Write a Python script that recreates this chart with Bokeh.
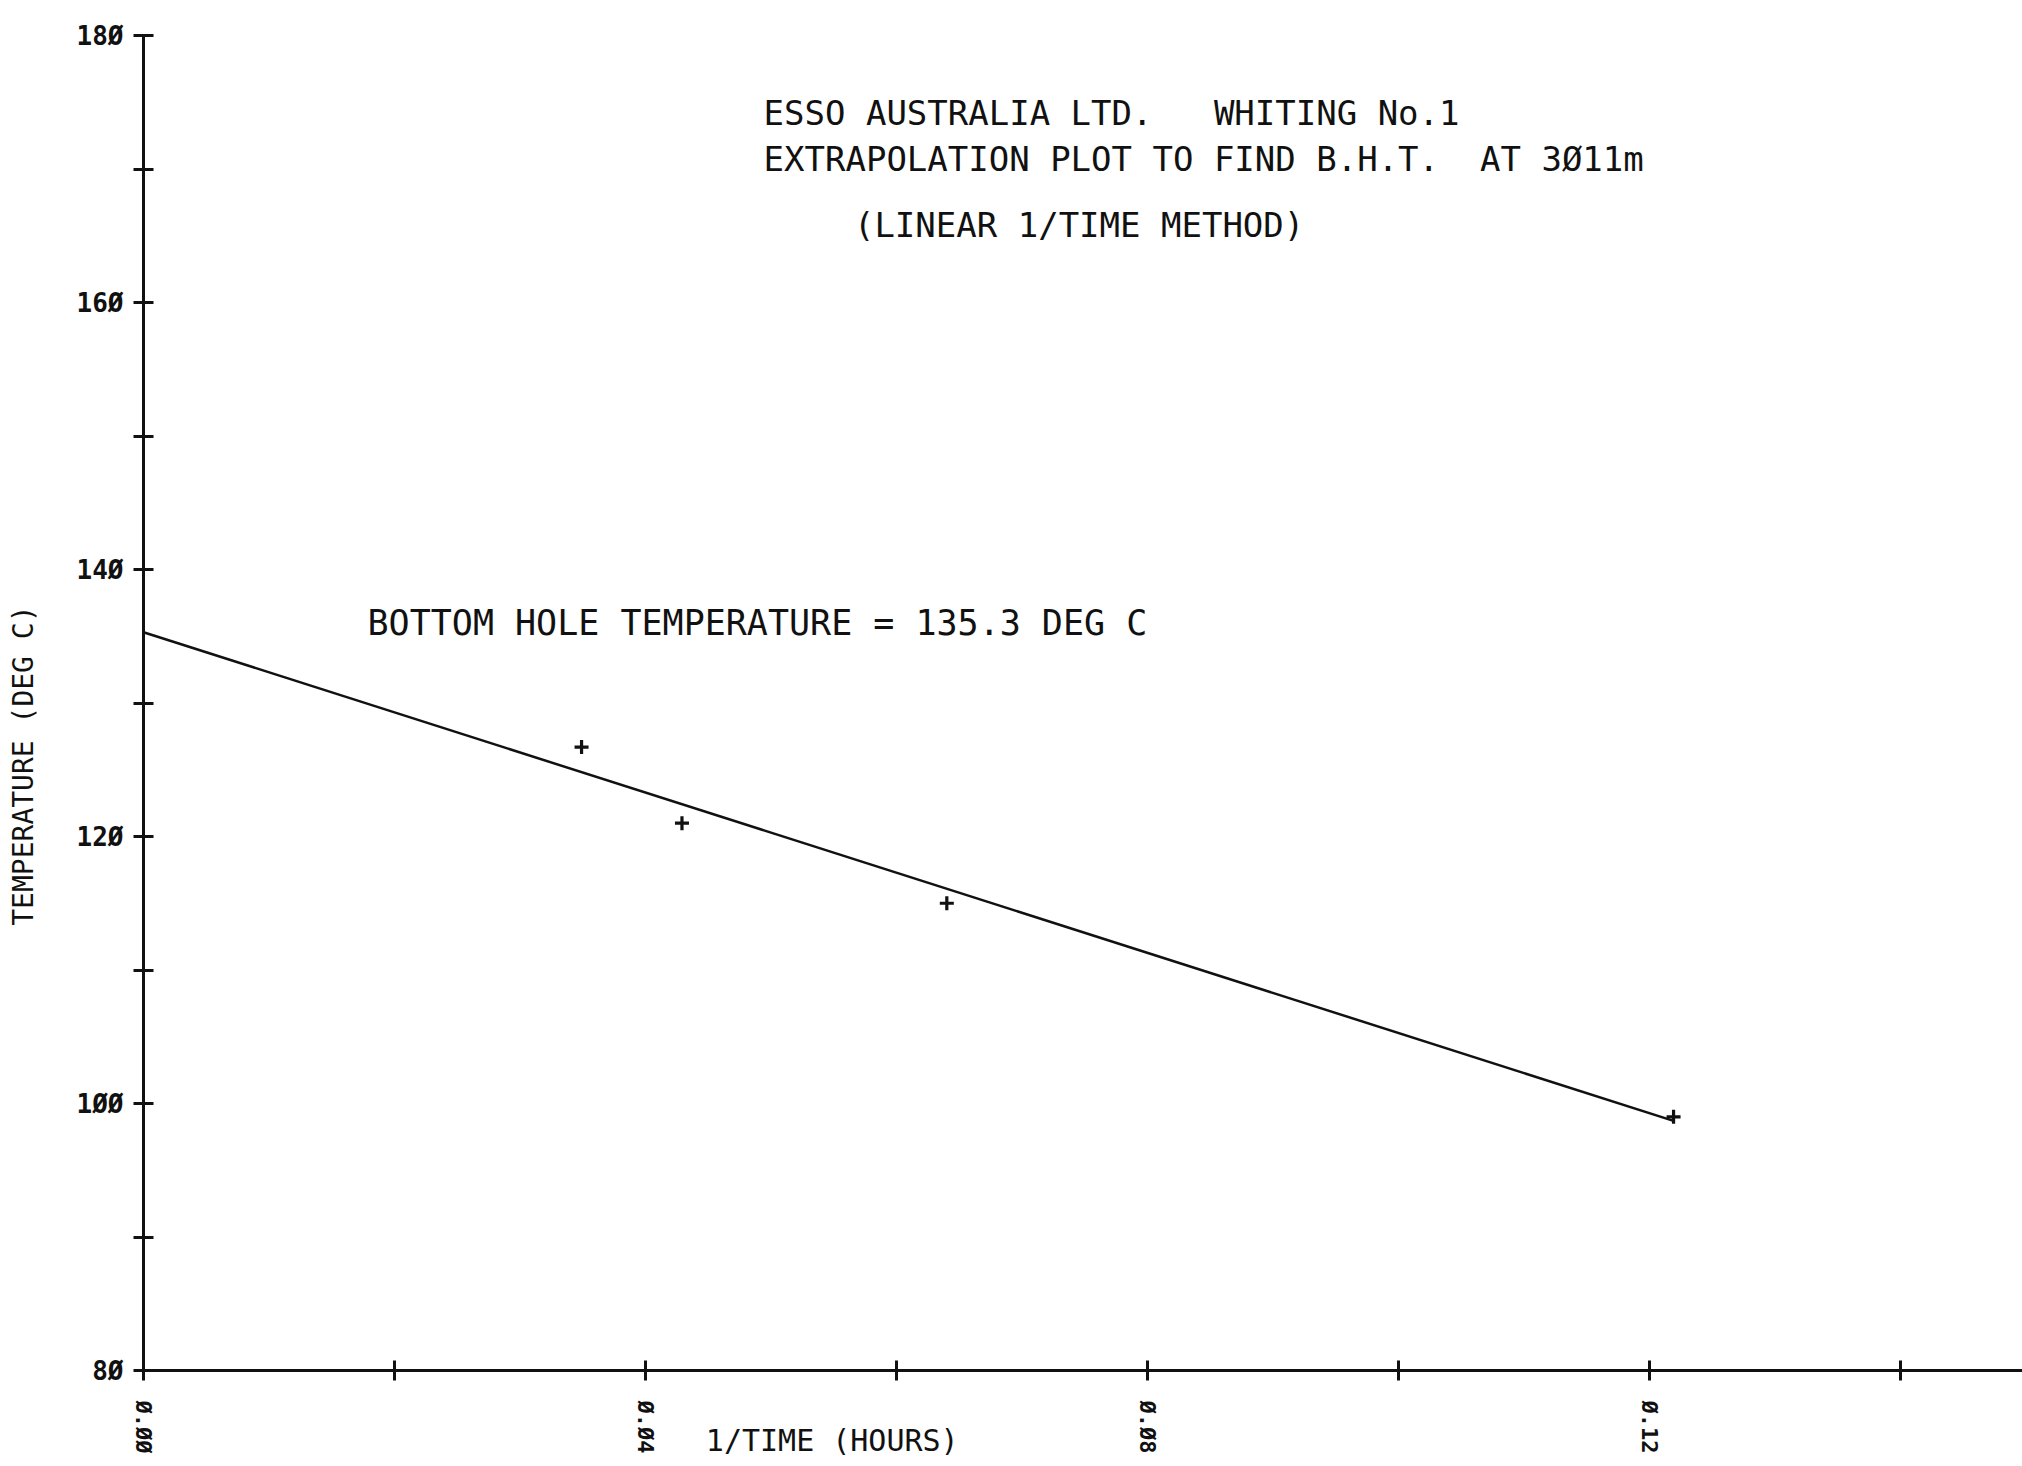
import math
from bokeh.plotting import figure
from bokeh.models import Range1d, FixedTicker, Label
from bokeh.embed import file_html
from bokeh.resources import INLINE

# ---- data ----
inv_time = [0.0349, 0.0429, 0.0640, 0.1219]          # 1/TIME (HOURS)
temperature = [126.7, 121.0, 115.0, 99.0]            # DEG C
fit_x = [0.0, 0.1219]
fit_y = [135.3, 98.7]

x_major_ticks = [0.0, 0.04, 0.08, 0.12]
x_major_labels = ["Ø.ØØ", "Ø.Ø4", "Ø.Ø8", "Ø.12"]
x_minor_ticks = [0.02, 0.06, 0.10, 0.14]
y_major_ticks = [80, 100, 120, 140, 160, 180]
y_major_labels = ["8Ø", "1ØØ", "12Ø", "14Ø", "16Ø", "18Ø"]
y_minor_ticks = [90, 110, 130, 150, 170]

NB = "\u00a0"
title_lines = ["ESSO AUSTRALIA LTD. " + NB + NB + "WHITING No.1",
               "EXTRAPOLATION PLOT TO FIND B.H.T. " + NB + "AT 3Ø11m",
               "(LINEAR 1/TIME METHOD)"]
bht_text = "BOTTOM HOLE TEMPERATURE = 135.3 DEG C"
x_label = "1/TIME (HOURS)"
y_label = "TEMPERATURE (DEG C)"

FONT = "DejaVu Sans Mono"
INK = "#111111"

p = figure(width=2022, height=1466, output_backend="svg", toolbar_location=None,
           x_range=Range1d(0.0, 0.1497), y_range=Range1d(80, 180),
           min_border_left=143, min_border_right=0, min_border_top=29,
           min_border_bottom=96)
p.background_fill_color = "white"
p.border_fill_color = "white"
p.outline_line_color = None
p.grid.visible = False

# axes
for ax in (p.xaxis[0], p.yaxis[0]):
    ax.axis_line_width = 3
    ax.axis_line_color = INK
    ax.major_tick_line_width = 3
    ax.minor_tick_line_width = 3
    ax.major_tick_line_color = INK
    ax.minor_tick_line_color = INK
    ax.major_tick_in = 10
    ax.major_tick_out = 10
    ax.minor_tick_in = 10
    ax.minor_tick_out = 10
    ax.major_label_text_font = FONT
    ax.major_label_text_font_style = "bold"
    ax.major_label_text_color = INK

p.xaxis[0].ticker = FixedTicker(ticks=x_major_ticks, minor_ticks=x_minor_ticks)
p.xaxis[0].major_label_overrides = dict(zip(x_major_ticks, x_major_labels))
p.xaxis[0].major_label_orientation = "vertical"
p.xaxis[0].major_label_text_font_size = "22px"
p.xaxis[0].major_label_standoff = 20

p.yaxis[0].ticker = FixedTicker(ticks=y_major_ticks, minor_ticks=y_minor_ticks)
p.yaxis[0].major_label_overrides = dict(zip(y_major_ticks, y_major_labels))
p.yaxis[0].major_label_text_font_size = "26px"
p.yaxis[0].major_label_standoff = 10

# fitted line and data points
p.line(fit_x, fit_y, line_color=INK, line_width=2.5)
p.scatter(inv_time, temperature, marker="cross", size=14, line_width=3.2,
          line_color=INK)

# texts
def make_text(x, y, txt, size, align="left", angle=0.0):
    return Label(x=x, y=y, x_units="data", y_units="data", text=txt,
                 text_font=FONT, text_font_size=size, text_color=INK,
                 text_baseline="middle", text_align=align, angle=angle)

p.add_layout(make_text(0.0494, 174.16, title_lines[0], "34px"))
p.add_layout(make_text(0.0494, 170.77, title_lines[1], "34px"))
p.add_layout(make_text(0.0566, 165.80, title_lines[2], "34px"))
p.add_layout(make_text(0.01785, 135.96, bht_text, "35px"))
# axis titles lie outside the frame: put them in side panels so that they
# are not clipped to the frame (their positions still follow the scales)
p.add_layout(make_text(0.0448, 74.73, x_label, "30px"), "above")
p.add_layout(make_text(-0.00956, 125.31, y_label, "28px", align="center",
                       angle=math.pi / 2), "left")

open("out.html", "w").write(file_html(p, INLINE))
